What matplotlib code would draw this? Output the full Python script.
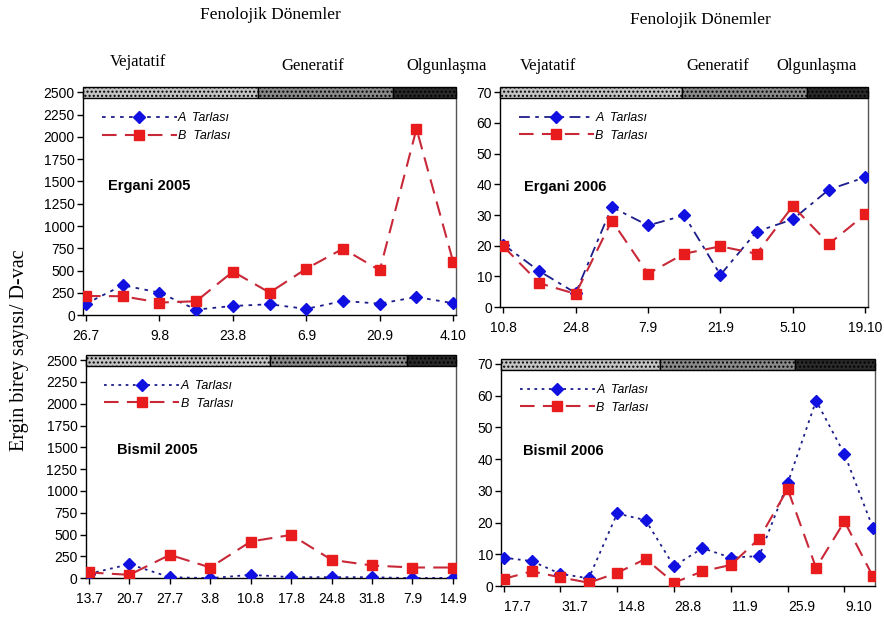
import matplotlib
matplotlib.use("Agg")
import matplotlib.pyplot as plt
from matplotlib.patches import Rectangle

# veriler
tarih_e05 = ["26.7", "9.8", "23.8", "6.9", "20.9", "4.10"]
a_e05 = [130, 336, 254, 63, 104, 123, 71, 160, 130, 205, 134]
b_e05 = [216, 213, 142, 157, 489, 254, 522, 746, 504, 2090, 597]

tarih_e06 = ["10.8", "24.8", "7.9", "21.9", "5.10", "19.10"]
a_e06 = [20.4, 11.7, 4.6, 32.6, 26.6, 29.9, 10.5, 24.6, 28.6, 38.3, 42.3]
b_e06 = [19.8, 7.8, 4.3, 28.2, 10.9, 17.4, 19.8, 17.4, 32.9, 20.6, 30.2]

tarih_b05 = ["13.7", "20.7", "27.7", "3.8", "10.8", "17.8", "24.8", "31.8", "7.9", "14.9"]
a_b05 = [50, 160, 11, 0, 38, 11, 11, 11, 0, 4]
b_b05 = [65, 38, 267, 122, 420, 496, 210, 145, 122, 122]

tarih_b06 = ["17.7", "31.7", "14.8", "28.8", "11.9", "25.9", "9.10"]
a_b06 = [9.0, 7.9, 3.9, 2.5, 22.9, 20.8, 6.3, 12.0, 9.0, 9.5, 32.4, 58.4, 41.6, 18.4]
b_b06 = [2.3, 4.7, 2.8, 1.1, 4.2, 8.6, 1.1, 4.7, 6.7, 15.0, 30.6, 5.8, 20.4, 3.1]

# fenolojik donem sinirlari (eksen genisligine oran)
donem_e05 = [0.47, 0.83]
donem_e06 = [0.495, 0.834]
donem_b05 = [0.497, 0.868]
donem_b06 = [0.425, 0.786]

sans = "Liberation Sans"
serif = "Liberation Serif"

fig = plt.figure(figsize=(8.84, 6.23), dpi=100)


def panel(rect, a, b, labels, ymax, ystep, title, title_xy, donem, a_ls,
          label_step=2, between=False):
    ax = fig.add_axes(rect)
    x = list(range(len(a)))
    ax.plot(x, a, color="#1c1c8a", ls=a_ls, lw=1.3, marker="D", ms=6.5,
            mfc="#1010e0", mec="#1010e0", label="A  Tarlası", zorder=3)
    ax.plot(x, b, color="#c82838", ls=(0, (7, 4)), lw=1.5, marker="s", ms=7.5,
            mfc="#e81c1c", mec="#e81c1c", label="B  Tarlası", zorder=3)
    ax.set_xlim(-0.08, len(a) - 1 + 0.08)
    ax.set_ylim(0, ymax)
    ax.set_yticks(range(0, ymax + 1, ystep))
    ax.set_yticklabels([str(v) for v in range(0, ymax + 1, ystep)],
                       family=sans, fontsize=10)
    ticks = list(range(0, len(a), label_step))
    ax.set_xticks(ticks)
    if between:
        ax.set_xticklabels([])
        ax.set_xticks([t + 0.5 for t in ticks], minor=True)
        ax.set_xticklabels(labels, minor=True, family=sans, fontsize=10)
        ax.tick_params(axis="x", which="minor", length=0, pad=10)
    else:
        ax.set_xticklabels(labels, family=sans, fontsize=10)
    ax.tick_params(axis="both", which="major", direction="out", length=4,
                   width=1, colors="black", pad=2)
    ax.tick_params(axis="x", which="major", pad=6)
    for s in ax.spines.values():
        s.set_color("#555555")
        s.set_linewidth(1)
    ax.spines["left"].set_color("black")
    ax.spines["bottom"].set_color("black")

    # fenolojik donem seridi
    kenar = [0] + donem + [1]
    renk = ["#c4c4c4", "#8a8a8a", "#2a2a2a"]
    for i in range(3):
        r = Rectangle((kenar[i], 0.972), kenar[i + 1] - kenar[i], 0.05,
                      transform=ax.transAxes, facecolor=renk[i],
                      edgecolor="black", lw=1, hatch="....", clip_on=False,
                      zorder=5)
        ax.add_patch(r)

    ax.text(title_xy[0], title_xy[1], title, transform=ax.transAxes,
            family=sans, fontsize=10.5, fontweight="bold", va="center")
    ax.legend(loc="upper left", bbox_to_anchor=(0.02, 0.96),
              frameon=False, handlelength=6.0, handletextpad=0.1,
              labelspacing=0.45, prop={"family": sans, "size": 9,
                                       "style": "italic"})
    return ax


panel([0.094, 0.494, 0.422, 0.358], a_e05, b_e05, tarih_e05, 2500, 250,
      "Ergani 2005", (0.067, 0.58), donem_e05, (0, (2, 3)))
panel([0.566, 0.507, 0.416, 0.345], a_e06, b_e06, tarih_e06, 70, 10,
      "Ergani 2006", (0.063, 0.56), donem_e06, (0, (6, 3, 2, 3)))
panel([0.097, 0.072, 0.419, 0.350], a_b05, b_b05, tarih_b05, 2500, 250,
      "Bismil 2005", (0.084, 0.587), donem_b05, (0, (1.5, 2.5)),
      label_step=1)
panel([0.567, 0.059, 0.423, 0.357], a_b06, b_b06, tarih_b06, 70, 10,
      "Bismil 2006", (0.059, 0.61), donem_b06, (0, (1.5, 2.5)),
      between=True)

# ust basliklar
W, H = 884.0, 623.0
fig.text(270 / W, 1 - 15 / H, "Fenolojik Dönemler", family=serif,
         fontsize=12.5, ha="center", va="center")
fig.text(700 / W, 1 - 20 / H, "Fenolojik Dönemler", family=serif,
         fontsize=12.5, ha="center", va="center")
for x, y, t in [(138, 62, "Vejatatif"), (313, 66, "Generatif"),
                (447, 66, "Olgunlaşma"), (548, 66, "Vejatatif"),
                (718, 66, "Generatif"), (817, 66, "Olgunlaşma")]:
    fig.text(x / W, 1 - y / H, t, family=serif, fontsize=12,
             ha="center", va="center")

fig.text(20 / W, 1 - 350 / H, "Ergin birey sayısı/ D-vac", family=serif,
         fontsize=14.5, rotation=90, ha="center", va="center")

fig.savefig("out.png", dpi=100)
